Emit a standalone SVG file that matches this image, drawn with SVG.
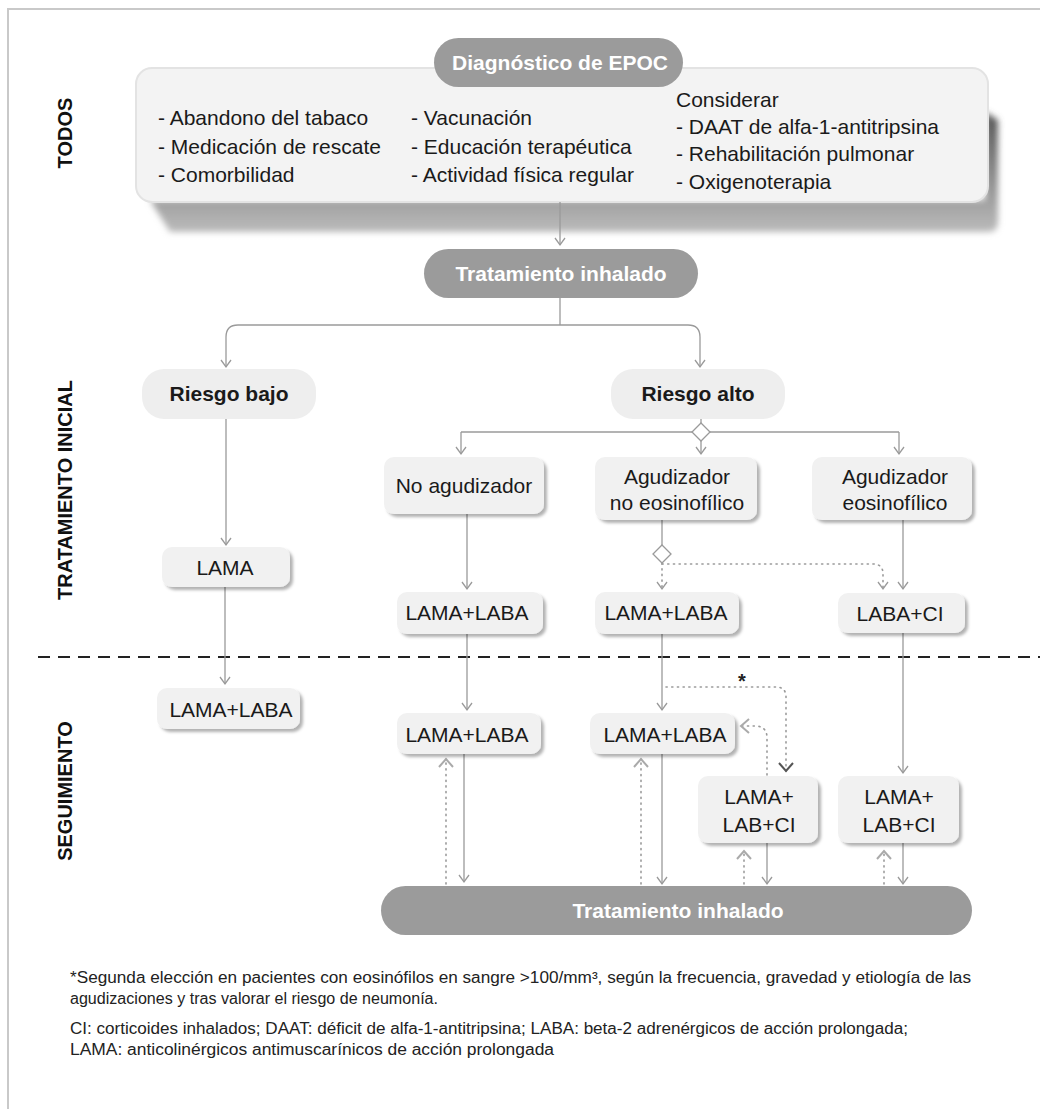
<svg xmlns="http://www.w3.org/2000/svg" width="1040" height="1109" viewBox="0 0 1040 1109">
<style>
.t{font-family:"Liberation Sans",Arial,sans-serif;font-size:21px;fill:#1a1a1a}
.b{font-family:"Liberation Sans",Arial,sans-serif;font-size:21px;font-weight:bold;fill:#1a1a1a}
.w{font-family:"Liberation Sans",Arial,sans-serif;font-size:21px;font-weight:bold;fill:#ffffff}
.lab{font-family:"Liberation Sans",Arial,sans-serif;font-size:20px;font-weight:bold;fill:#111}
.fn{font-family:"Liberation Sans",Arial,sans-serif;font-size:16px;fill:#222}
.node{fill:#f1f1f1;filter:url(#sh)}
.risk{fill:#eeeeee}
.dark{fill:#9b9b9b}
.ln{fill:none;stroke:#9a9a9a;stroke-width:1.3}
.dot{fill:none;stroke:#9a9a9a;stroke-width:1.6;stroke-dasharray:1.2 4.5;stroke-linecap:round}
</style>
<defs>
<filter id="sh" x="-10%" y="-10%" width="130%" height="140%">
<feDropShadow dx="3" dy="3" stdDeviation="1.5" flood-color="#000" flood-opacity="0.3"/>
</filter>
<filter id="bl" x="-5%" y="-30%" width="110%" height="160%">
<feGaussianBlur stdDeviation="3"/>
</filter>
<linearGradient id="sg" x1="0" y1="0" x2="0" y2="1">
<stop offset="0" stop-color="#555"/>
<stop offset="1" stop-color="#bbb"/>
</linearGradient>
<marker id="a" markerUnits="userSpaceOnUse" viewBox="-10 -6 12 12" refX="0" refY="0" markerWidth="12" markerHeight="12" orient="auto">
<path d="M-7,-5 L0,0 L-7,5" fill="none" stroke="#9a9a9a" stroke-width="1.3"/>
</marker>
<marker id="au" markerUnits="userSpaceOnUse" viewBox="-12 -9 14 18" refX="0" refY="0" markerWidth="14" markerHeight="18" orient="auto">
<path d="M-8,-7 L0,0 L-8,7" fill="none" stroke="#aaaaaa" stroke-width="2"/>
</marker>
<marker id="ad" markerUnits="userSpaceOnUse" viewBox="-12 -9 14 18" refX="0" refY="0" markerWidth="14" markerHeight="18" orient="auto">
<path d="M-8,-7 L0,0 L-8,7" fill="none" stroke="#555" stroke-width="2"/>
</marker>
</defs>
<rect width="1040" height="1109" fill="#ffffff"/>
<path d="M8,1109 V9 H1040" fill="none" stroke="#c9c9c9" stroke-width="2"/>

<g id="labels">
<text class="lab" transform="translate(72,133) rotate(-90)" text-anchor="middle">TODOS</text>
<text class="lab" transform="translate(72,490) rotate(-90)" text-anchor="middle">TRATAMIENTO INICIAL</text>
<text class="lab" transform="translate(72,791) rotate(-90)" text-anchor="middle">SEGUIMIENTO</text>
</g>

<path d="M38,657 H1040" stroke="#222" stroke-width="2.2" stroke-dasharray="12 8"/>

<g id="todos">
<path d="M150,200 L985,200 L985,112 L998,120 L998,222 Q998,232 988,232 L170,232 Z" fill="url(#sg)" filter="url(#bl)"/>
<rect x="136" y="68" width="852" height="134" rx="16" fill="#f3f3f3" stroke="#e3e3e3" stroke-width="2"/>
<text class="t" x="158" y="125">- Abandono del tabaco</text>
<text class="t" x="158" y="154">- Medicación de rescate</text>
<text class="t" x="158" y="182">- Comorbilidad</text>
<text class="t" x="411" y="125">- Vacunación</text>
<text class="t" x="411" y="154">- Educación terapéutica</text>
<text class="t" x="411" y="182">- Actividad física regular</text>
<text class="t" x="676" y="107">Considerar</text>
<text class="t" x="676" y="134">- DAAT de alfa-1-antitripsina</text>
<text class="t" x="676" y="161">- Rehabilitación pulmonar</text>
<text class="t" x="676" y="189">- Oxigenoterapia</text>
</g>
<g id="diag">
<rect class="dark" x="434" y="38" width="249" height="49" rx="24.5"/>
<text class="w" x="560" y="70" text-anchor="middle">Diagnóstico de EPOC</text>
</g>

<g id="connectors">
<path class="ln" d="M560,202 V245" marker-end="url(#a)"/>
<path class="ln" d="M560,298 V325 M560,325 H238 Q226,325 226,337 V367" marker-end="url(#a)"/>
<path class="ln" d="M560,325 H688 Q700,325 700,337 V367" marker-end="url(#a)"/>
<path class="ln" d="M701,419 V423"/>
<path class="ln" d="M461,432 H899"/>
<path class="ln" d="M461,432 V454" marker-end="url(#a)"/>
<path class="ln" d="M701,441 V454" marker-end="url(#a)"/>
<path class="ln" d="M899,432 V454" marker-end="url(#a)"/>
<path class="ln" d="M226,419 V545" marker-end="url(#a)"/>
<path class="ln" d="M225,587 V684" marker-end="url(#a)"/>
<path class="ln" d="M467,514 V589" marker-end="url(#a)"/>
<path class="ln" d="M662,520 V545"/>
<path class="dot" d="M662,563 V589" marker-end="url(#a)"/>
<path class="dot" d="M662,564 H873 Q883,564 883,574 V589" marker-end="url(#a)"/>
<path class="ln" d="M903,520 V589" marker-end="url(#a)"/>
<path class="ln" d="M467,634 V710" marker-end="url(#a)"/>
<path class="ln" d="M662,634 V710" marker-end="url(#a)"/>
<path class="dot" d="M666,687 H776 Q786,687 786,697 V771" marker-end="url(#ad)"/>
<path class="dot" d="M767,775 V738 Q767,726 755,726 H741" marker-end="url(#au)"/>
<path class="ln" d="M903,633 V773" marker-end="url(#a)"/>
<path class="ln" d="M464,754 V882" marker-end="url(#a)"/>
<path class="dot" d="M446,884 V759" marker-end="url(#au)"/>
<path class="ln" d="M662,754 V884" marker-end="url(#a)"/>
<path class="dot" d="M641,884 V759" marker-end="url(#au)"/>
<path class="ln" d="M767,843 V884" marker-end="url(#a)"/>
<path class="dot" d="M744,884 V851" marker-end="url(#au)"/>
<path class="ln" d="M903,843 V884" marker-end="url(#a)"/>
<path class="dot" d="M884,884 V851" marker-end="url(#au)"/>
<text x="742" y="688" text-anchor="middle" style="font-family:'Liberation Sans',Arial,sans-serif;font-size:20px;font-weight:bold;fill:#222">*</text>
</g>

<g id="trat1">
<rect class="dark" x="424" y="249" width="274" height="49" rx="24.5"/>
<text class="w" x="561" y="281" text-anchor="middle">Tratamiento inhalado</text>
</g>
<g id="riesgo-bajo">
<rect class="risk" x="142" y="369" width="174" height="50" rx="22"/>
<text class="b" x="229" y="401" text-anchor="middle">Riesgo bajo</text>
</g>
<g id="riesgo-alto">
<rect class="risk" x="611" y="369" width="174" height="50" rx="22"/>
<text class="b" x="698" y="401" text-anchor="middle">Riesgo alto</text>
</g>
<g id="diamond1">
<path d="M701,423 L710,432 L701,441 L692,432 Z" fill="#fff" stroke="#9a9a9a" stroke-width="1.3"/>
</g>
<g id="no-agudizador">
<rect class="node" x="384" y="457" width="160" height="57" rx="10"/>
<text class="t" x="464" y="493" text-anchor="middle">No agudizador</text>
</g>
<g id="agud-no-eos">
<rect class="node" x="595" y="457" width="162" height="63" rx="10"/>
<text class="t" x="677" y="484" text-anchor="middle">Agudizador</text>
<text class="t" x="677" y="510" text-anchor="middle">no eosinofílico</text>
</g>
<g id="agud-eos">
<rect class="node" x="812" y="457" width="160" height="63" rx="10"/>
<text class="t" x="895" y="484" text-anchor="middle">Agudizador</text>
<text class="t" x="895" y="510" text-anchor="middle">eosinofílico</text>
</g>
<g id="diamond2">
<path d="M662,545 L671,554 L662,563 L653,554 Z" fill="#fff" stroke="#9a9a9a" stroke-width="1.3"/>
</g>
<g id="lama">
<rect class="node" x="162" y="547" width="128" height="40" rx="10"/>
<text class="t" x="225" y="575" text-anchor="middle">LAMA</text>
</g>
<g id="lamalaba-i1">
<rect class="node" x="397" y="592" width="146" height="42" rx="10"/>
<text class="t" x="467" y="620" text-anchor="middle">LAMA+LABA</text>
</g>
<g id="lamalaba-i2">
<rect class="node" x="595" y="592" width="144" height="42" rx="10"/>
<text class="t" x="666" y="620" text-anchor="middle">LAMA+LABA</text>
</g>
<g id="labaci">
<rect class="node" x="838" y="593" width="127" height="40" rx="10"/>
<text class="t" x="900" y="621" text-anchor="middle">LABA+CI</text>
</g>
<g id="lamalaba-s0">
<rect class="node" x="157" y="688" width="143" height="41" rx="10"/>
<text class="t" x="231" y="717" text-anchor="middle">LAMA+LABA</text>
</g>
<g id="lamalaba-s1">
<rect class="node" x="397" y="713" width="144" height="41" rx="10"/>
<text class="t" x="467" y="742" text-anchor="middle">LAMA+LABA</text>
</g>
<g id="lamalaba-s2">
<rect class="node" x="590" y="713" width="145" height="41" rx="10"/>
<text class="t" x="665" y="742" text-anchor="middle">LAMA+LABA</text>
</g>
<g id="triple1">
<rect class="node" x="698" y="776" width="120" height="67" rx="10"/>
<text class="t" x="759" y="804" text-anchor="middle">LAMA+</text>
<text class="t" x="759" y="832" text-anchor="middle">LAB+CI</text>
</g>
<g id="triple2">
<rect class="node" x="838" y="776" width="121" height="67" rx="10"/>
<text class="t" x="899" y="804" text-anchor="middle">LAMA+</text>
<text class="t" x="899" y="832" text-anchor="middle">LAB+CI</text>
</g>
<g id="trat2">
<rect class="dark" x="381" y="886" width="591" height="49" rx="24.5"/>
<text class="w" x="678" y="918" text-anchor="middle">Tratamiento inhalado</text>
</g>

<g id="footnotes">
<text class="fn" x="70" y="983" textLength="901" lengthAdjust="spacingAndGlyphs">*Segunda elección en pacientes con eosinófilos en sangre &gt;100/mm³, según la frecuencia, gravedad y etiología de las</text>
<text class="fn" x="70" y="1004" textLength="368" lengthAdjust="spacingAndGlyphs">agudizaciones y tras valorar el riesgo de neumonía.</text>
<text class="fn" x="70" y="1034" textLength="838" lengthAdjust="spacingAndGlyphs">CI: corticoides inhalados; DAAT: déficit de alfa-1-antitripsina; LABA: beta-2 adrenérgicos de acción prolongada;</text>
<text class="fn" x="70" y="1055" textLength="484" lengthAdjust="spacingAndGlyphs">LAMA: anticolinérgicos antimuscarínicos de acción prolongada</text>
</g>
</svg>
